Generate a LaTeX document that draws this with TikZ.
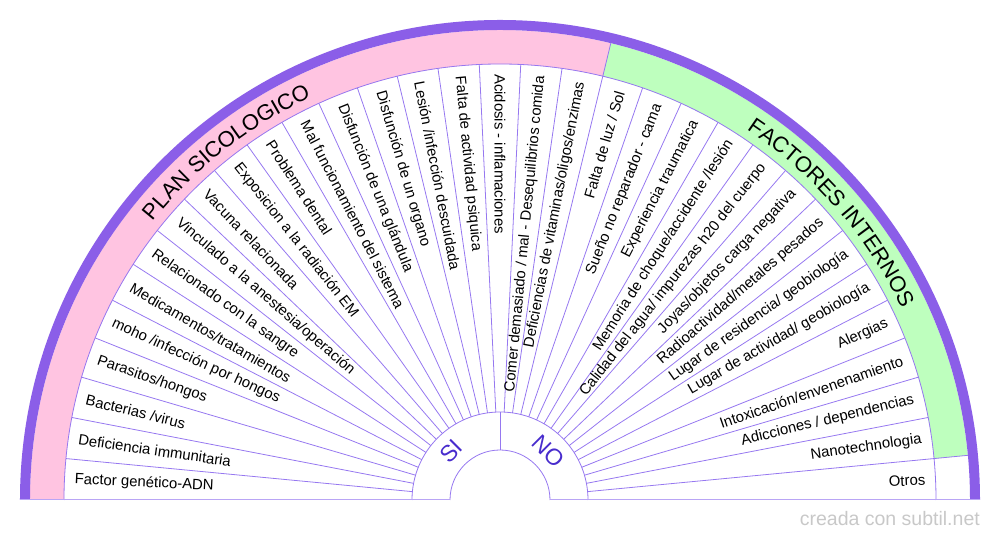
\documentclass[tikz,border=0pt]{standalone}
\usepackage{fontspec}
\setmainfont{Liberation Sans}
\usetikzlibrary{decorations.text}

\definecolor{anillo}{RGB}{139,94,232}
\definecolor{linea}{RGB}{150,120,240}
\definecolor{base}{RGB}{185,165,245}
\definecolor{rosa}{RGB}{255,196,225}
\definecolor{verde}{RGB}{190,255,190}
\definecolor{sino}{RGB}{72,44,205}
\definecolor{marca}{RGB}{200,200,200}

\tikzset{
  raya/.style={draw=linea, line width=0.8pt},
  etiqueta/.style={font=\fontsize{14.9}{16}\selectfont, inner sep=0pt},
  hub/.style={font=\fontsize{23}{23}\selectfont, text=sino, inner sep=0pt},
}

\begin{document}
\begin{tikzpicture}[x=1pt,y=1pt]
\useasboundingbox (-500,-40) rectangle (500,500);

% Banda rosa
\fill[rosa] (180:436) arc (180:76.3636:436) -- (76.3636:470) arc (76.3636:180:470) -- cycle;

% Banda verde
\fill[verde] (76.3636:436) arc (76.3636:5.4545:436) -- (5.4545:470) arc (5.4545:76.3636:470) -- cycle;

% Anillo
\fill[anillo] (180:470) arc (180:0:470) -- (0:480) arc (0:180:480) -- cycle;

% Arcos
\draw[raya] (180:436) arc (180:0:436);
\draw[raya] (180:88) arc (180:0:88);
\draw[raya] (180:50) arc (180:0:50);

% Rayos
\foreach \k in {1,...,32}
  \draw[raya] ({180-\k*180/33}:88) -- ({180-\k*180/33}:436);
\draw[raya] (76.3636:436) -- (76.3636:470);
\draw[raya] (5.4545:436) -- (5.4545:470);
\draw[raya] (90:50) -- (90:88);

% Base
\draw[base, line width=1pt] (-480,0) -- (-50,0);
\draw[base, line width=1pt] (50,0) -- (480,0);

% Etiquetas
\foreach \lab [count=\k] in {Factor genético-ADN, Deficiencia immunitaria, Bacterias /virus,
  Parasitos/hongos, moho /infección por hongos, Medicamentos/tratamientos,
  Relacionado con la sangre, Vinculado a la anestesia/operación, Vacuna relacionada,
  Exposicion a la radiación EM, Problema dental, Mal funcionamiento del sistema,
  Disfunción de una glándula, Disfunción de un organo, Lesión /infección descuidada,
  Falta de actividad psiquica, Acidosis - inflamaciones,
  Comer demasiado / mal - Desequilibrios comida, Deficiencias de vitaminas/oligos/enzimas,
  Falta de luz / Sol, Sueño no reparador - cama, Experiencia traumatica,
  Memoria de choque/accidente /lesión, Calidad del agua/ impurezas h20 del cuerpo,
  Joyas/objetos carga negativa, Radioactividad/metales pesados,
  Lugar de residencia/ geobiología, Lugar de actividad/ geobiología, Alergias,
  Intoxicación/envenenamiento, Adicciones / dependencias, Nanotechnologia, Otros}
{
  \pgfmathsetmacro\ang{180-(\k-0.5)*180/33}
  \ifnum\k<18
    \node[etiqueta, anchor=west, rotate=\ang-180] (l\k) at (\ang:426) {\lab};
  \else
    \node[etiqueta, anchor=east, rotate=\ang] (l\k) at (\ang:426) {\lab};
  \fi
}

% Titulos
\path[decorate, decoration={text along path, text align=center,
  text={|\fontsize{22}{22}\selectfont|PLAN SICOLOGICO}}]
  (160:445) arc (160:96.36:445);
\path[decorate, decoration={text along path, text align=center,
  text={|\fontsize{22}{22}\selectfont|FACTORES INTERNOS}}]
  (72:445) arc (72:9.82:445);

% SI / NO
\node[hub, rotate=45] (si) at (135:69) {SI};
\node[hub, rotate=-45] (no) at (45:69) {NO};

% Marca
\node[anchor=base east, text=marca, inner sep=0pt, font=\fontsize{19.5}{20}\selectfont] (marca) at (480,-26) {creada con subtil.net};

\end{tikzpicture}
\end{document}
